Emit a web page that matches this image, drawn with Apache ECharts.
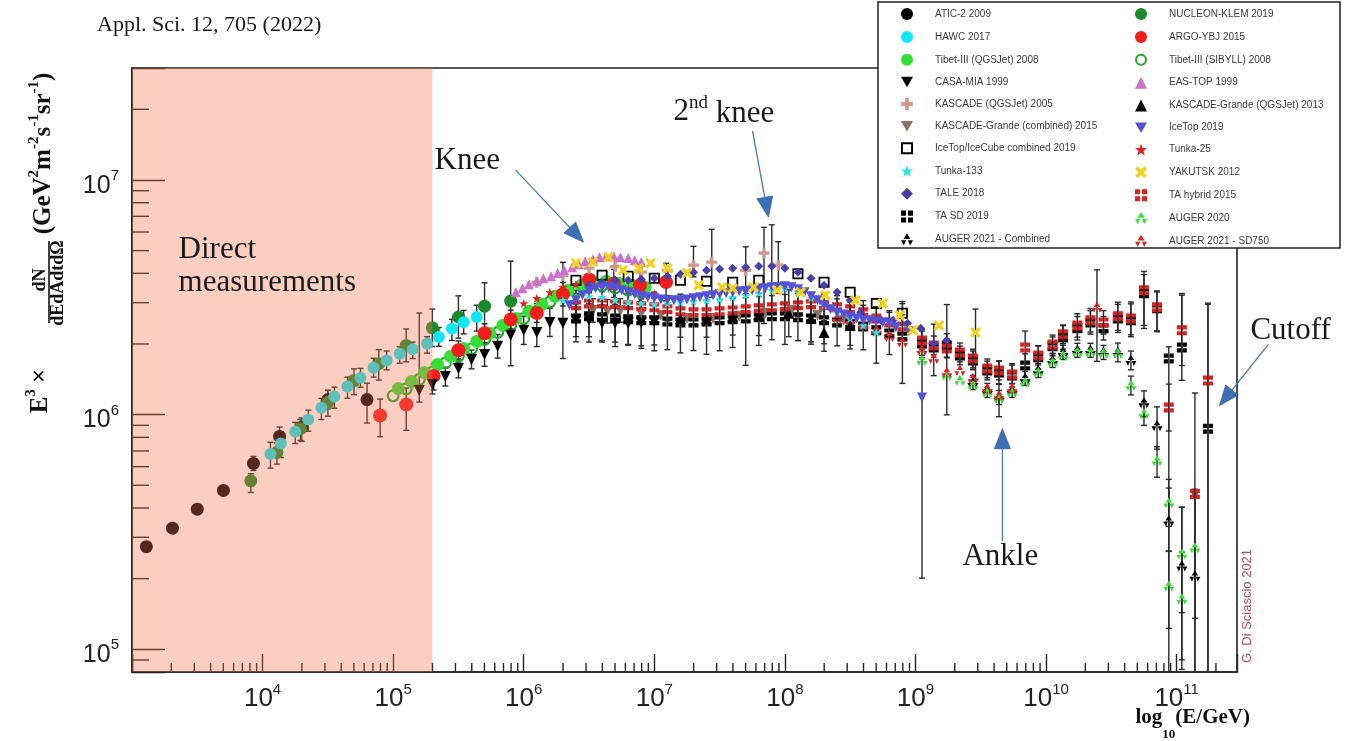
<!DOCTYPE html>
<html>
<head>
<meta charset="utf-8">
<title>All-particle cosmic-ray energy spectrum</title>
<script src="https://cdn.jsdelivr.net/npm/echarts@6/dist/echarts.min.js"></script>
<style>
  html, body { margin: 0; padding: 0; background: #ffffff; }
  #chart { width: 1360px; height: 741px; }
</style>
</head>
<body>
<div id="chart"></div>
<script>
// Axis extents (GeV and GeV^2 m^-2 s^-1 sr^-1)
const X_MIN = 1e3, X_MAX = 2.9e11;
const Y_MIN = 8e4, Y_MAX = 3e7;
const DIRECT_LIMIT = 2e5;   // upper end of the direct-measurement band

// Rows: [log10(E/GeV), log10(E^3 dN/dE), error down, error up] - errors in decades, optional
const atic2 = [
  [3.11, 5.437], [3.31, 5.516], [3.50, 5.597], [3.70, 5.677],
  [3.93, 5.792, 0.03, 0.03], [4.13, 5.907, 0.04, 0.04], [4.30, 5.946, 0.06, 0.04],
  [4.50, 6.064, 0.04, 0.04], [4.80, 6.064, 0.10, 0.07]
];
const nucleonKlem = [
  [3.91, 5.718, 0.05, 0.03], [4.11, 5.839, 0.05, 0.04], [4.29, 5.940, 0.05, 0.04],
  [4.50, 6.053, 0.06, 0.05], [4.70, 6.145, 0.06, 0.05], [4.89, 6.217, 0.07, 0.06],
  [5.10, 6.295, 0.07, 0.07], [5.30, 6.370, 0.08, 0.08], [5.50, 6.416, 0.09, 0.09],
  [5.70, 6.462, 0.10, 0.10], [5.90, 6.484, 0.12, 0.17]
];
const hawc = [
  [4.06, 5.832, 0.06, 0.05], [4.14, 5.877, 0.06, 0.05], [4.25, 5.927, 0.05, 0.04],
  [4.35, 5.979, 0.05, 0.04], [4.45, 6.029, 0.05, 0.04], [4.55, 6.077, 0.05, 0.04],
  [4.65, 6.120, 0.05, 0.04], [4.75, 6.157, 0.04, 0.04], [4.85, 6.200, 0.04, 0.04],
  [4.95, 6.231, 0.04, 0.04], [5.05, 6.259, 0.04, 0.03], [5.15, 6.279, 0.04, 0.03],
  [5.26, 6.302, 0.04, 0.03], [5.35, 6.331, 0.04, 0.04], [5.45, 6.366, 0.05, 0.04],
  [5.54, 6.394, 0.05, 0.05], [5.64, 6.416, 0.06, 0.05]
];
const argoYbj = [
  [4.90, 5.996, 0.09, 0.07], [5.10, 6.043, 0.11, 0.07], [5.31, 6.165, 0.06, 0.05],
  [5.50, 6.274, 0.05, 0.04], [5.70, 6.347, 0.04, 0.04], [5.90, 6.405, 0.04, 0.04],
  [6.10, 6.433, 0.04, 0.04], [6.30, 6.513, 0.05, 0.05], [6.50, 6.576, 0.05, 0.05],
  [6.69, 6.559, 0.06, 0.06], [6.89, 6.551, 0.07, 0.07], [7.09, 6.565, 0.08, 0.08]
];
const tibetQgsjet = [
  [5.04, 6.111], [5.14, 6.141], [5.24, 6.179], [5.34, 6.214], [5.44, 6.248],
  [5.54, 6.282], [5.64, 6.312], [5.74, 6.346], [5.84, 6.380], [5.94, 6.410],
  [6.04, 6.440], [6.14, 6.470], [6.24, 6.504], [6.34, 6.530], [6.44, 6.551],
  [6.53, 6.568], [6.63, 6.568], [6.73, 6.560], [6.83, 6.551], [6.93, 6.543]
];
const tibetSibyll = [
  [5.00, 6.080], [5.10, 6.110], [5.20, 6.150], [5.30, 6.180], [5.40, 6.220],
  [5.50, 6.250], [5.60, 6.280], [5.70, 6.320], [5.80, 6.350], [5.90, 6.380],
  [6.00, 6.410], [6.10, 6.440], [6.20, 6.480], [6.30, 6.510], [6.40, 6.530],
  [6.50, 6.550], [6.60, 6.550], [6.70, 6.540], [6.80, 6.530], [6.90, 6.520]
];
const casaMia = [
  [5.20, 6.103, 0.05, 0.33], [5.30, 6.128, 0.04, 0.04], [5.40, 6.162, 0.04, 0.04],
  [5.50, 6.197, 0.04, 0.04], [5.60, 6.235, 0.04, 0.04], [5.70, 6.256, 0.05, 0.05],
  [5.80, 6.291, 0.05, 0.05], [5.90, 6.338, 0.13, 0.06], [6.00, 6.359, 0.06, 0.06],
  [6.10, 6.350, 0.06, 0.06], [6.20, 6.393, 0.06, 0.06], [6.30, 6.389, 0.15, 0.26],
  [6.40, 6.402, 0.07, 0.07], [6.50, 6.402, 0.07, 0.07], [6.60, 6.389, 0.08, 0.08],
  [6.70, 6.389, 0.08, 0.08], [6.80, 6.389, 0.09, 0.09], [6.90, 6.393, 0.10, 0.10],
  [7.00, 6.397, 0.10, 0.10]
];
const easTop = [
  [5.94, 6.521], [5.99, 6.538], [6.04, 6.556], [6.10, 6.568], [6.15, 6.581],
  [6.21, 6.590], [6.26, 6.603], [6.31, 6.615], [6.37, 6.628], [6.42, 6.641],
  [6.47, 6.654], [6.53, 6.662], [6.58, 6.671], [6.63, 6.675], [6.69, 6.675],
  [6.74, 6.671], [6.80, 6.667], [6.85, 6.658], [6.90, 6.650]
];
const kascadeQgsjet = [
  [6.10, 6.564], [6.30, 6.594], [6.50, 6.624], [6.70, 6.632], [6.90, 6.607],
  [7.10, 6.615], [7.30, 6.637, 0.05, 0.08], [7.44, 6.650, 0.15, 0.14],
  [7.70, 6.615, 0.10, 0.10], [7.84, 6.688, 0.30, 0.11], [7.95, 6.637, 0.12, 0.10]
];
const kgCombined = [
  [6.53, 6.444, 0.05, 0.05], [6.64, 6.440, 0.05, 0.05], [6.74, 6.444, 0.05, 0.05],
  [6.90, 6.432], [7.05, 6.423], [7.25, 6.410], [7.45, 6.410], [7.65, 6.419],
  [7.85, 6.432], [8.05, 6.444], [8.25, 6.423], [8.45, 6.402]
];
const kgQgsjet = [
  [7.20, 6.410, 0.08, 0.08], [7.40, 6.410, 0.08, 0.08], [7.60, 6.419, 0.08, 0.08],
  [7.80, 6.427, 0.09, 0.09], [8.03, 6.432, 0.10, 0.10], [8.20, 6.410, 0.10, 0.10],
  [8.30, 6.350, 0.08, 0.05], [8.50, 6.380, 0.10, 0.10]
];
const iceTopIceCube = [
  [6.40, 6.573], [6.60, 6.594], [6.80, 6.590], [7.00, 6.581], [7.20, 6.573],
  [7.40, 6.568], [7.60, 6.564], [7.80, 6.573], [8.10, 6.600], [8.30, 6.564],
  [8.50, 6.521], [8.70, 6.474], [8.90, 6.432, 0.05, 0.05]
];
const iceTop2019 = [
  [6.35, 6.466], [6.40, 6.487], [6.45, 6.509], [6.50, 6.526], [6.55, 6.538],
  [6.60, 6.543], [6.65, 6.543], [6.70, 6.538], [6.75, 6.530], [6.80, 6.521],
  [6.85, 6.513], [6.90, 6.504], [6.95, 6.500], [7.00, 6.496], [7.05, 6.491],
  [7.10, 6.487], [7.15, 6.487], [7.20, 6.487], [7.25, 6.491], [7.30, 6.496],
  [7.35, 6.500], [7.40, 6.504], [7.45, 6.509], [7.50, 6.513], [7.55, 6.517],
  [7.60, 6.521], [7.65, 6.526], [7.70, 6.526], [7.75, 6.530], [7.80, 6.534],
  [7.85, 6.538], [7.90, 6.543], [7.95, 6.543], [8.00, 6.547], [8.05, 6.543],
  [8.10, 6.534], [8.15, 6.521], [8.20, 6.504], [8.25, 6.487], [8.30, 6.466],
  [8.35, 6.449], [8.40, 6.436], [8.45, 6.427], [8.50, 6.419], [8.55, 6.410],
  [8.60, 6.402], [8.65, 6.402], [8.70, 6.397], [8.75, 6.393], [8.80, 6.389],
  [8.85, 6.372], [8.95, 6.355], [9.05, 6.073, 0.77, 0.18]
];
const tunka25 = [
  [6.00, 6.474], [6.10, 6.496], [6.20, 6.521], [6.30, 6.543], [6.40, 6.556],
  [6.50, 6.564], [6.60, 6.560], [6.70, 6.547], [6.80, 6.534], [6.90, 6.521], [7.00, 6.513]
];
const tunka133 = [
  [6.30, 6.487], [6.40, 6.500], [6.50, 6.504], [6.60, 6.500], [6.70, 6.487],
  [6.80, 6.479], [6.90, 6.474], [7.00, 6.470], [7.10, 6.474], [7.20, 6.479],
  [7.30, 6.483], [7.40, 6.487], [7.50, 6.491], [7.60, 6.500], [7.70, 6.509],
  [7.80, 6.517], [7.90, 6.530], [8.00, 6.538], [8.10, 6.521], [8.20, 6.496],
  [8.30, 6.466], [8.40, 6.436], [8.50, 6.410], [8.60, 6.380], [8.70, 6.350]
];
const yakutsk = [
  [6.40, 6.645], [6.53, 6.650], [6.65, 6.671], [6.76, 6.615], [6.88, 6.624],
  [6.97, 6.645], [7.10, 6.624], [7.25, 6.603], [7.34, 6.551], [7.52, 6.543],
  [7.60, 6.538], [7.76, 6.543], [7.94, 6.530], [8.12, 6.521], [8.31, 6.509],
  [8.54, 6.487], [8.75, 6.474], [8.88, 6.423], [8.98, 6.359], [9.18, 6.380],
  [9.46, 6.350, 0.20, 0.10]
];
const tale = [
  [6.50, 6.551], [6.60, 6.564], [6.70, 6.573], [6.80, 6.573], [6.90, 6.577],
  [7.00, 6.581], [7.10, 6.590], [7.20, 6.598], [7.30, 6.607], [7.40, 6.615],
  [7.50, 6.620], [7.60, 6.624], [7.70, 6.628], [7.80, 6.632], [7.90, 6.632],
  [8.00, 6.624], [8.10, 6.607], [8.20, 6.581], [8.30, 6.551], [8.40, 6.521],
  [8.50, 6.487], [8.58, 6.436], [8.74, 6.402], [8.83, 6.402], [8.94, 6.389],
  [9.04, 6.368], [9.14, 6.303], [9.24, 6.316]
];
const taHybrid = [
  [6.40, 6.466, 0.05, 0.05], [6.50, 6.474, 0.05, 0.05], [6.60, 6.474, 0.05, 0.05],
  [6.70, 6.470, 0.05, 0.05], [6.80, 6.466, 0.05, 0.05], [6.90, 6.462, 0.05, 0.05],
  [7.00, 6.457, 0.05, 0.05], [7.10, 6.449, 0.05, 0.05], [7.20, 6.440, 0.05, 0.05],
  [7.30, 6.436, 0.05, 0.05], [7.40, 6.436, 0.05, 0.05], [7.50, 6.440, 0.05, 0.05],
  [7.60, 6.444, 0.05, 0.05], [7.70, 6.449, 0.05, 0.05], [7.80, 6.453, 0.05, 0.05],
  [7.90, 6.457, 0.05, 0.05], [8.00, 6.462, 0.05, 0.05], [8.10, 6.466, 0.05, 0.05],
  [8.20, 6.470, 0.05, 0.05], [8.30, 6.466, 0.05, 0.05], [8.40, 6.457, 0.05, 0.05],
  [8.50, 6.449, 0.05, 0.05], [8.60, 6.436, 0.05, 0.05], [8.70, 6.410, 0.05, 0.05],
  [8.80, 6.393, 0.05, 0.05], [8.90, 6.376, 0.05, 0.05],
  [9.05, 6.316, 0.04, 0.04], [9.14, 6.295, 0.04, 0.04], [9.24, 6.282, 0.04, 0.04],
  [9.34, 6.265, 0.04, 0.04], [9.44, 6.239, 0.04, 0.04], [9.55, 6.197, 0.04, 0.04],
  [9.64, 6.188, 0.04, 0.04], [9.74, 6.171, 0.04, 0.04], [9.84, 6.286, 0.14, 0.07],
  [9.94, 6.252, 0.04, 0.04], [10.05, 6.299, 0.04, 0.04], [10.13, 6.342, 0.04, 0.04],
  [10.24, 6.380, 0.05, 0.05], [10.34, 6.402, 0.05, 0.05], [10.44, 6.393, 0.05, 0.05],
  [10.55, 6.419, 0.06, 0.06], [10.65, 6.410, 0.07, 0.07], [10.75, 6.530, 0.15, 0.08],
  [10.85, 6.457, 0.10, 0.07], [10.94, 6.030, 0.10, 0.10], [11.04, 6.359, 0.15, 0.15],
  [11.14, 5.662, 1.50, 0.43], [11.24, 6.145, 1.50, 0.33]
];
const taSd = [
  [6.40, 6.410, 0.10, 0.12], [6.50, 6.419, 0.11, 0.10], [6.60, 6.415, 0.10, 0.13],
  [6.70, 6.410, 0.12, 0.11], [6.80, 6.406, 0.11, 0.12], [6.90, 6.402, 0.12, 0.10],
  [7.00, 6.402, 0.13, 0.12], [7.10, 6.397, 0.12, 0.11], [7.20, 6.393, 0.13, 0.12],
  [7.30, 6.393, 0.12, 0.11], [7.40, 6.397, 0.14, 0.12], [7.50, 6.402, 0.13, 0.12],
  [7.60, 6.406, 0.12, 0.13], [7.70, 6.410, 0.20, 0.12], [7.80, 6.415, 0.12, 0.14],
  [7.90, 6.419, 0.10, 0.39], [8.00, 6.419, 0.12, 0.12], [8.10, 6.415, 0.10, 0.11],
  [8.20, 6.410, 0.11, 0.10], [8.30, 6.402, 0.10, 0.11], [8.40, 6.393, 0.10, 0.10],
  [8.50, 6.385, 0.09, 0.10], [8.60, 6.376, 0.10, 0.09], [8.70, 6.359, 0.14, 0.10],
  [8.80, 6.346, 0.09, 0.09], [8.90, 6.333, 0.20, 0.14],
  [9.05, 6.303, 0.06, 0.06], [9.14, 6.286, 0.12, 0.10], [9.24, 6.295, 0.05, 0.05],
  [9.34, 6.252, 0.04, 0.04], [9.44, 6.231, 0.04, 0.04], [9.55, 6.188, 0.04, 0.04],
  [9.64, 6.179, 0.05, 0.05], [9.74, 6.167, 0.05, 0.05], [9.84, 6.209, 0.05, 0.05],
  [9.94, 6.244, 0.05, 0.05], [10.05, 6.291, 0.04, 0.04], [10.13, 6.329, 0.05, 0.05],
  [10.24, 6.368, 0.05, 0.05], [10.34, 6.393, 0.05, 0.05], [10.44, 6.368, 0.05, 0.05],
  [10.55, 6.410, 0.06, 0.06], [10.65, 6.402, 0.07, 0.07], [10.75, 6.517, 0.15, 0.08],
  [10.85, 6.453, 0.10, 0.07], [10.94, 6.239, 1.50, 0.05], [11.04, 6.286, 0.14, 0.23],
  [11.24, 5.940, 1.50, 0.53]
];
const augerCombined = [
  [9.44, 6.137, 0.03, 0.03], [9.55, 6.103, 0.03, 0.03], [9.64, 6.073, 0.03, 0.03],
  [9.74, 6.103, 0.03, 0.03], [9.84, 6.154, 0.03, 0.03], [9.94, 6.188, 0.03, 0.03],
  [10.05, 6.231, 0.03, 0.03], [10.13, 6.265, 0.03, 0.03], [10.24, 6.274, 0.03, 0.03],
  [10.34, 6.274, 0.03, 0.03], [10.44, 6.265, 0.03, 0.03], [10.55, 6.265, 0.04, 0.04],
  [10.65, 6.231, 0.04, 0.04], [10.75, 6.051, 0.06, 0.05], [10.85, 5.953, 0.10, 0.08],
  [10.94, 5.547, 0.13, 0.14], [11.04, 5.355, 0.40, 0.25], [11.14, 5.312, 1.00, 0.35]
];
const auger2020 = [
  [9.05, 6.231], [9.24, 6.167], [9.34, 6.145], [9.44, 6.124], [9.55, 6.094],
  [9.64, 6.068], [9.74, 6.094], [9.84, 6.137], [9.94, 6.179], [10.05, 6.222],
  [10.13, 6.252], [10.24, 6.265], [10.34, 6.265], [10.44, 6.261], [10.55, 6.261],
  [10.65, 6.124, 0.04, 0.04], [10.75, 6.004, 0.05, 0.05], [10.85, 5.803, 0.07, 0.06],
  [10.94, 5.624, 0.10, 0.10], [10.94, 5.269, 0.18, 0.15], [11.04, 5.406, 0.25, 0.20],
  [11.04, 5.214, 0.30, 0.20], [11.14, 5.432, 0.30, 0.25]
];
const augerSd750 = [
  [8.40, 6.410], [8.50, 6.402], [8.60, 6.380], [8.70, 6.359], [8.80, 6.333],
  [8.90, 6.308], [9.05, 6.274], [9.14, 6.239], [9.24, 6.179, 0.18, 0.29],
  [9.34, 6.188], [9.44, 6.154], [9.55, 6.111], [9.64, 6.081, 0.09, 0.05],
  [9.74, 6.111], [10.39, 6.457, 0.23, 0.16]
];

// Legend columns
const legendLeft = [
  'ATIC-2 2009', 'HAWC 2017', 'Tibet-III (QGSJet) 2008', 'CASA-MIA 1999',
  'KASCADE (QGSJet) 2005', 'KASCADE-Grande (combined) 2015', 'IceTop/IceCube combined 2019',
  'Tunka-133', 'TALE 2018', 'TA SD 2019', 'AUGER 2021 - Combined'
];
const legendRight = [
  'NUCLEON-KLEM 2019', 'ARGO-YBJ 2015', 'Tibet-III (SIBYLL) 2008', 'EAS-TOP 1999',
  'KASCADE-Grande (QGSJet) 2013', 'IceTop 2019', 'Tunka-25', 'YAKUTSK 2012',
  'TA hybrid 2015', 'AUGER 2020', 'AUGER 2021 - SD750'
];
const minorSteps = [2, 3, 4, 5, 6, 7, 8, 9];

// Marker shapes
const SYM = {
  cross: 'path://M3.5,0H6.5V3.5H10V6.5H6.5V10H3.5V6.5H0V3.5H3.5Z',
  xmark: 'path://M2.1,0L5,2.9L7.9,0L10,2.1L7.1,5L10,7.9L7.9,10L5,7.1L2.1,10L0,7.9L2.9,5L0,2.1Z',
  triDown: 'path://M0,0H10L5,8.7Z',
  quad: 'path://M0,0H4.2V4.2H0Z M5.8,0H10V4.2H5.8Z M0,5.8H4.2V10H0Z M5.8,5.8H10V10H5.8Z',
  trefoil: 'path://M5,0L8,4.6H2Z M0,5.6H4.2L2.4,10Z M5.8,5.6H10L7.6,10Z',
  star: 'path://M5,0L6.2,3.4L9.8,3.5L7,5.7L8,9.3L5,7.2L2,9.3L3,5.7L0.2,3.5L3.8,3.4Z',
  ring: 'path://M5,0A5,5 0 1,1 5,10A5,5 0 1,1 5,0Z M5,1.7A3.3,3.3 0 1,0 5,8.3A3.3,3.3 0 1,0 5,1.7Z',
  openSquare: 'path://M0,0H10V10H0Z M1.6,1.6V8.4H8.4V1.6Z'
};

// Drawing order (first drawn lies underneath)
const experiments = [
  { name: 'ATIC-2 2009', rows: atic2, symbol: 'circle', size: 13, color: '#000000' },
  { name: 'NUCLEON-KLEM 2019', rows: nucleonKlem, symbol: 'circle', size: 13, color: '#1b8a2a' },
  { name: 'HAWC 2017', rows: hawc, symbol: 'circle', size: 12, color: '#12e6f5' },
  { name: 'Tibet-III (SIBYLL) 2008', rows: tibetSibyll, symbol: SYM.ring, size: 13, color: '#1fa82a' },
  { name: 'Tibet-III (QGSJet) 2008', rows: tibetQgsjet, symbol: 'circle', size: 13, color: '#33e038' },
  { name: 'ARGO-YBJ 2015', rows: argoYbj, symbol: 'circle', size: 14, color: '#f01d1d' },
  { name: 'CASA-MIA 1999', rows: casaMia, symbol: SYM.triDown, size: 11, color: '#000000' },
  { name: 'KASCADE-Grande (combined) 2015', rows: kgCombined, symbol: SYM.triDown, size: 11, color: '#8a7266' },
  { name: 'KASCADE-Grande (QGSJet) 2013', rows: kgQgsjet, symbol: 'triangle', size: 11, color: '#000000' },
  { name: 'TA SD 2019', rows: taSd, symbol: SYM.quad, size: 10, color: '#000000' },
  { name: 'TA hybrid 2015', rows: taHybrid, symbol: SYM.quad, size: 10, color: '#e01f1f' },
  { name: 'AUGER 2021 - Combined', rows: augerCombined, symbol: SYM.trefoil, size: 11, color: '#000000' },
  { name: 'AUGER 2020', rows: auger2020, symbol: SYM.trefoil, size: 11, color: '#35e035' },
  { name: 'AUGER 2021 - SD750', rows: augerSd750, symbol: SYM.trefoil, size: 11, color: '#e01f1f' },
  { name: 'KASCADE (QGSJet) 2005', rows: kascadeQgsjet, symbol: SYM.cross, size: 11, color: '#c99a8c' },
  { name: 'IceTop/IceCube combined 2019', rows: iceTopIceCube, symbol: SYM.openSquare, size: 11, color: '#000000' },
  { name: 'Tunka-25', rows: tunka25, symbol: SYM.star, size: 9, color: '#e02020' },
  { name: 'Tunka-133', rows: tunka133, symbol: SYM.star, size: 9, color: '#2fe3e3' },
  { name: 'TALE 2018', rows: tale, symbol: 'diamond', size: 9, color: '#4b3fa8' },
  { name: 'IceTop 2019', rows: iceTop2019, symbol: SYM.triDown, size: 10, color: '#5452d6' },
  { name: 'EAS-TOP 1999', rows: easTop, symbol: 'triangle', size: 10, color: '#cc72cc' },
  { name: 'YAKUTSK 2012', rows: yakutsk, symbol: SYM.xmark, size: 11, color: '#f2d21e' }
];

const SERIF = '"Liberation Serif", "DejaVu Serif", serif';
const SANS = '"Liberation Sans", Arial, sans-serif';
const INK = '#222222';
const pow10 = v => Math.pow(10, v);

const scatterSeries = experiments.map(e => ({
  type: 'scatter',
  name: e.name,
  z: 3,
  silent: true,
  symbol: e.symbol,
  symbolSize: e.size,
  itemStyle: { color: e.color, opacity: 1 },
  data: e.rows.map(r => [pow10(r[0]), pow10(r[1])])
}));

// Error bars: [E, low, high, capAtLow]
const errorRows = [];
experiments.forEach(e => e.rows.forEach(r => {
  if (r.length > 3) {
    const lo = pow10(r[1] - r[2]);
    errorRows.push([pow10(r[0]), Math.max(Y_MIN, lo), Math.min(Y_MAX, pow10(r[1] + r[3])), lo > Y_MIN ? 1 : 0]);
  }
}));

// Decade subdivisions for the minor ticks
const xMinor = [], yMinor = [];
for (let d = 3; d <= 11; d++) minorSteps.forEach(m => { const v = m * pow10(d); if (v > X_MIN && v < X_MAX) xMinor.push([v, Y_MIN]); });
for (let d = 4; d <= 7; d++) minorSteps.forEach(m => { const v = m * pow10(d); if (v > Y_MIN && v < Y_MAX) yMinor.push([X_MIN, v]); });

function powerLabel(lowest) {
  return v => {
    const l = Math.log10(v), e = Math.round(l);
    if (Math.abs(l - e) > 1e-6 || v <= lowest * 1.0001) return '';
    return '{b|10}{s|' + e + '}';
  };
}
const labelRich = (big, small) => ({
  b: { fontFamily: SANS, fontSize: big, lineHeight: 30, color: INK, verticalAlign: 'bottom' },
  s: { fontFamily: SANS, fontSize: small, lineHeight: 13, color: INK, verticalAlign: 'top' }
});

const legendCommon = {
  orient: 'vertical',
  top: 8,
  padding: 0,
  itemWidth: 12,
  itemHeight: 12,
  itemGap: 10.9,
  selectedMode: false,
  symbolKeepAspect: true,
  z: 50,
  textStyle: { fontFamily: SANS, fontSize: 10, color: '#3a3a3a', padding: [0, 0, 0, 17] }
};

const chart = echarts.init(document.getElementById('chart'), null, { renderer: 'canvas' });

const option = {
  animation: false,
  backgroundColor: '#ffffff',
  textStyle: { fontFamily: SANS },
  grid: { left: 132, right: 123, top: 68, bottom: 69, show: true, borderColor: INK, borderWidth: 1.6, backgroundColor: 'transparent' },
  legend: [
    Object.assign({ left: 901, data: legendLeft }, legendCommon),
    Object.assign({ left: 1135, data: legendRight }, legendCommon)
  ],
  xAxis: {
    type: 'log', logBase: 10, min: X_MIN, max: X_MAX, splitNumber: 10,
    axisLine: { show: true, onZero: false, lineStyle: { color: INK, width: 1.6 } },
    axisTick: { show: true, inside: true, length: 18, lineStyle: { color: INK, width: 1.4 } },
    minorTick: { show: false },
    splitLine: { show: false },
    axisLabel: { margin: 10, formatter: powerLabel(X_MIN), rich: labelRich(26, 15) }
  },
  yAxis: {
    type: 'log', logBase: 10, min: Y_MIN, max: Y_MAX, splitNumber: 5,
    axisLine: { show: true, onZero: false, lineStyle: { color: INK, width: 1.6 } },
    axisTick: { show: true, inside: true, length: 33, lineStyle: { color: INK, width: 1.4 } },
    minorTick: { show: false },
    splitLine: { show: false },
    axisLabel: { margin: 13, padding: [7, 0, 0, 0], formatter: powerLabel(Y_MIN), rich: labelRich(25, 15) }
  },
  series: [
    {
      type: 'custom', name: 'x minor ticks', z: 2, silent: true, data: xMinor,
      encode: { x: 0, y: 1 },
      renderItem: (p, api) => {
        const c = api.coord([api.value(0), api.value(1)]);
        return { type: 'line', shape: { x1: c[0], y1: c[1], x2: c[0], y2: c[1] - 9 }, style: { stroke: INK, lineWidth: 1.4 } };
      }
    },
    {
      type: 'custom', name: 'y minor ticks', z: 2, silent: true, data: yMinor,
      encode: { x: 0, y: 1 },
      renderItem: (p, api) => {
        const c = api.coord([api.value(0), api.value(1)]);
        return { type: 'line', shape: { x1: c[0], y1: c[1], x2: c[0] + 17, y2: c[1] }, style: { stroke: INK, lineWidth: 1.4 } };
      }
    },
    {
      type: 'custom', name: 'error bars', z: 2, silent: true, data: errorRows,
      encode: { x: 0, y: [1, 2] },
      renderItem: (p, api) => {
        const e = api.value(0);
        const lo = api.coord([e, api.value(1)]);
        const hi = api.coord([e, api.value(2)]);
        const st = { stroke: '#2a2a2a', lineWidth: 1.4 };
        const kids = [
          { type: 'line', shape: { x1: lo[0], y1: lo[1], x2: hi[0], y2: hi[1] }, style: st },
          { type: 'line', shape: { x1: hi[0] - 3, y1: hi[1], x2: hi[0] + 3, y2: hi[1] }, style: st }
        ];
        if (api.value(3) > 0) kids.push({ type: 'line', shape: { x1: lo[0] - 3, y1: lo[1], x2: lo[0] + 3, y2: lo[1] }, style: st });
        return { type: 'group', children: kids };
      }
    },
    ...scatterSeries,
    {
      type: 'custom', name: 'direct band', z: 6, silent: true,
      data: [[X_MIN, Y_MIN, DIRECT_LIMIT, Y_MAX]],
      encode: { x: [0, 2], y: [1, 3] },
      renderItem: (p, api) => {
        const a = api.coord([api.value(0), api.value(3)]);
        const b = api.coord([api.value(2), api.value(1)]);
        return { type: 'rect', shape: { x: a[0], y: a[1], width: b[0] - a[0], height: b[1] - a[1] }, style: { fill: 'rgba(240,118,78,0.35)' } };
      }
    }
  ]
};

chart.setOption(option);

// Annotations, anchored in data space: [log10 E, log10 flux]
const toPx = (le, lf) => chart.convertToPixel({ gridIndex: 0 }, [pow10(le), pow10(lf)]);
const arrows = [
  { from: [5.937, 7.043], to: [6.458, 6.735] },
  { from: [7.752, 7.209], to: [7.874, 6.842] },
  { from: [9.666, 5.462], to: [9.666, 5.940] },
  { from: [11.703, 6.299], to: [11.328, 6.038] }
];
const notes = [
  { at: [3.357, 6.701], text: 'Direct' },
  { at: [3.357, 6.560], text: 'measurements' },
  { at: [5.317, 7.081], text: 'Knee' },
  { at: [7.147, 7.291], text: '2{sup|nd}{n| knee}' },
  { at: [9.360, 5.393], text: 'Ankle' },
  { at: [11.565, 6.359], text: 'Cutoff' }
];

const graphics = [];
arrows.forEach(a => {
  const s = toPx(a.from[0], a.from[1]);
  const t = toPx(a.to[0], a.to[1]);
  const dx = t[0] - s[0], dy = t[1] - s[1], L = Math.hypot(dx, dy);
  const ux = dx / L, uy = dy / L, head = 20, half = 8;
  const bx = t[0] - ux * head, by = t[1] - uy * head;
  graphics.push({ type: 'line', z: 30, silent: true, shape: { x1: s[0], y1: s[1], x2: bx, y2: by }, style: { stroke: '#4a78b2', lineWidth: 1.3 } });
  graphics.push({ type: 'polygon', z: 30, silent: true, shape: { points: [[t[0], t[1]], [bx - uy * half, by + ux * half], [bx + uy * half, by - ux * half]] }, style: { fill: '#3d6fb6', stroke: '#33619e', lineWidth: 0.8 } });
});
notes.forEach(n => {
  const p = toPx(n.at[0], n.at[1]);
  graphics.push({
    type: 'text', z: 30, silent: true, x: p[0], y: p[1],
    style: {
      text: n.text, fill: '#1a1a1a', fontFamily: SERIF, fontSize: 31, align: 'left', verticalAlign: 'middle',
      rich: {
        sup: { fontFamily: SERIF, fontSize: 19, lineHeight: 16, verticalAlign: 'top', fill: '#1a1a1a' },
        n: { fontFamily: SERIF, fontSize: 31, lineHeight: 36, verticalAlign: 'bottom', fill: '#1a1a1a' }
      }
    }
  });
});

// Reference line above the frame
graphics.push({ type: 'text', z: 30, silent: true, x: 97, y: 25, style: { text: 'Appl. Sci. 12, 705 (2022)', fill: '#1a1a1a', fontFamily: SERIF, fontSize: 22, align: 'left', verticalAlign: 'middle' } });

// Y-axis title, built from rotated pieces
const boldRich = {
  b: { fontFamily: SERIF, fontWeight: 'bold', fontSize: 25, lineHeight: 30, verticalAlign: 'bottom', fill: '#111' },
  s: { fontFamily: SERIF, fontWeight: 'bold', fontSize: 15, lineHeight: 13, verticalAlign: 'top', fill: '#111' }
};
const R = Math.PI / 2;
graphics.push({ type: 'text', z: 30, silent: true, x: 38.5, y: 391, rotation: R, style: { text: '{b|E}{s|3}{b| ×}', align: 'center', verticalAlign: 'middle', rich: boldRich } });
graphics.push({ type: 'text', z: 30, silent: true, x: 41.5, y: 153.5, rotation: R, style: { text: '{b|(GeV}{s|2}{b|m}{s|-2}{b|s}{s|-1}{b|sr}{s|-1}{b|)}', align: 'center', verticalAlign: 'middle', rich: boldRich } });
graphics.push({ type: 'text', z: 30, silent: true, x: 40, y: 280, rotation: R, style: { text: 'dN', fontFamily: SERIF, fontWeight: 'bold', fontSize: 18, fill: '#111', align: 'center', verticalAlign: 'middle' } });
graphics.push({ type: 'line', z: 30, silent: true, shape: { x1: 49, y1: 241, x2: 49, y2: 323 }, style: { stroke: '#111', lineWidth: 1.6 } });
graphics.push({ type: 'text', z: 30, silent: true, x: 58, y: 283, rotation: R, style: { text: 'dEdAdtdΩ', fontFamily: SERIF, fontWeight: 'bold', fontSize: 18, fill: '#111', align: 'center', verticalAlign: 'middle' } });

// X-axis title
graphics.push({
  type: 'text', z: 30, silent: true, x: 1250, y: 724,
  style: {
    text: '{b|log}{d|10}{b|(E/GeV)}', align: 'right', verticalAlign: 'middle',
    rich: {
      b: { fontFamily: SERIF, fontWeight: 'bold', fontSize: 21, lineHeight: 34, verticalAlign: 'top', fill: '#111' },
      d: { fontFamily: SERIF, fontWeight: 'bold', fontSize: 13, lineHeight: 16, verticalAlign: 'bottom', fill: '#111' }
    }
  }
});

// Author credit along the right edge
graphics.push({ type: 'text', z: 30, silent: true, x: 1247, y: 606, rotation: R, style: { text: 'G. Di Sciascio 2021', fontFamily: SANS, fontSize: 13, fill: '#b44f5c', align: 'center', verticalAlign: 'middle' } });

// Legend frame (sits under the two legend columns)
graphics.push({ type: 'rect', z: 40, silent: true, shape: { x: 878, y: 2, width: 462, height: 246 }, style: { fill: '#ffffff', stroke: INK, lineWidth: 1.5 } });

chart.setOption({ graphic: graphics });
</script>
</body>
</html>
